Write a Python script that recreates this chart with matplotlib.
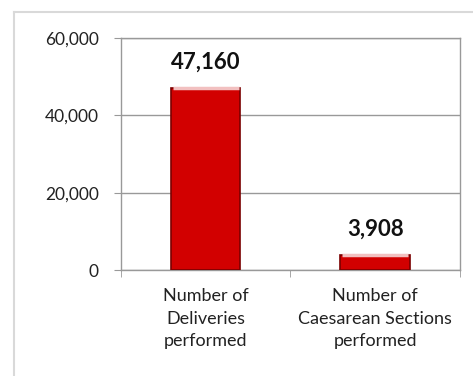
import matplotlib
matplotlib.use("Agg")
import matplotlib.pyplot as plt
from matplotlib.lines import Line2D
from matplotlib.ticker import FuncFormatter

plt.rcParams["font.family"] = ["Lato", "DejaVu Sans"]

categories = ["Number of\nDeliveries\nperformed",
              "Number of\nCaesarean Sections\nperformed"]
values = [47160, 3908]
yticks = [0, 20000, 40000, 60000]

fig = plt.figure(figsize=(4.73, 3.76), dpi=100)
ax = fig.add_axes([0.2558, 0.2819, 0.7167, 0.6170])

# outer chart frame (light gray)
fig.add_artist(Line2D([14/473, 1.0], [1 - 12/376, 1 - 12/376], color="#d9d9d9", lw=1.5,
                      transform=fig.transFigure))
fig.add_artist(Line2D([14/473, 14/473], [0, 1 - 12/376], color="#d9d9d9", lw=1.5,
                      transform=fig.transFigure))

x = list(range(len(values)))
bars = ax.bar(x, values, width=0.41, color="#d20000", edgecolor="#7a0000", lw=1.2, zorder=3)
# light bevel along the top of each bar
for b in bars:
    ax.plot([b.get_x() + 0.01, b.get_x() + b.get_width() - 0.01],
            [b.get_height(), b.get_height()], color="#f2c0c0", lw=2.5, zorder=4,
            solid_capstyle="butt")

for xi, v in zip(x, values):
    ax.annotate(f"{v:,}", (xi, v), xytext=(0, 14), textcoords="offset points",
                ha="center", va="baseline", fontsize=16, fontweight="bold", color="#111111")

ax.set_xlim(-0.5, 1.5)
ax.set_ylim(0, 60000)
ax.set_yticks(yticks)
ax.yaxis.set_major_formatter(FuncFormatter(lambda v, p: f"{int(v):,}"))
ax.grid(axis="y", color="#999999", lw=1, zorder=0)
ax.set_xticks(x)
ax.set_xticklabels(categories, fontsize=13, linespacing=1.5)
ax.set_xticks([-0.5, 0.5, 1.5], minor=True)
ax.tick_params(axis="x", which="major", length=0, pad=13, colors="#222222")
ax.tick_params(axis="x", which="minor", length=5, color="#999999")
ax.tick_params(axis="y", length=5, color="#999999", pad=11, labelsize=12.5, labelcolor="#222222")

for s in ["top", "right", "left", "bottom"]:
    ax.spines[s].set_color("#999999")
    ax.spines[s].set_linewidth(1)

fig.savefig("out.png", dpi=100)
